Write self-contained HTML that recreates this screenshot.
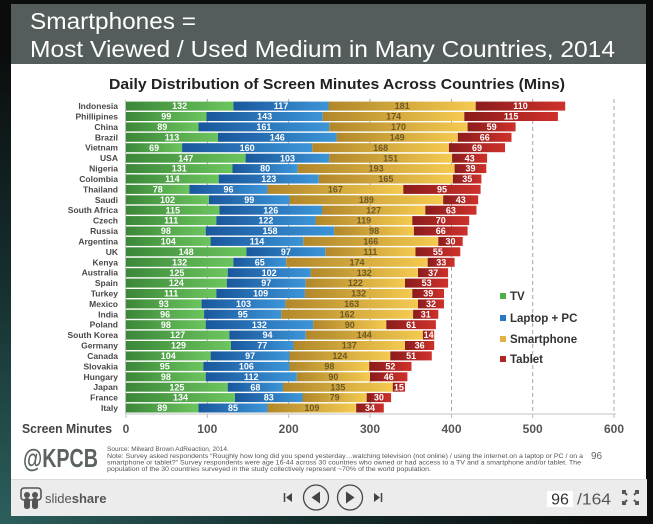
<!DOCTYPE html>
<html><head><meta charset="utf-8">
<style>
html,body{margin:0;padding:0;background:#0b0d0d;}
svg{display:block;}
text{font-family:"Liberation Sans",Arial,sans-serif;}
</style></head>
<body>
<svg width="653" height="524" viewBox="0 0 653 524" xmlns="http://www.w3.org/2000/svg">
<defs>
<linearGradient id="gG" x1="0" x2="1" y1="0" y2="0"><stop offset="0" stop-color="#3b8739"/><stop offset="1" stop-color="#6cc55e"/></linearGradient>
<linearGradient id="gB" x1="0" x2="1" y1="0" y2="0"><stop offset="0" stop-color="#1a579c"/><stop offset="1" stop-color="#3c95d8"/></linearGradient>
<linearGradient id="gS" x1="0" x2="1" y1="0" y2="0"><stop offset="0" stop-color="#b1872b"/><stop offset="1" stop-color="#f4ca50"/></linearGradient>
<linearGradient id="gT" x1="0" x2="1" y1="0" y2="0"><stop offset="0" stop-color="#8a1c1c"/><stop offset="1" stop-color="#cf312b"/></linearGradient>
<radialGradient id="bg" cx="0" cy="1" r="0.9"><stop offset="0" stop-color="#2c5f5c"/><stop offset="0.5" stop-color="#15302f"/><stop offset="1" stop-color="#0b0d0d"/></radialGradient>
</defs>
<rect x="0" y="0" width="653" height="524" fill="url(#bg)"/>
<!-- slide -->
<rect x="11" y="4" width="635" height="60" fill="#545d5b"/>
<rect x="11" y="64" width="635" height="415" fill="#ffffff"/>
<text x="30" y="29" font-size="23" fill="#ffffff" textLength="166" lengthAdjust="spacingAndGlyphs">Smartphones =</text>
<text x="30" y="57" font-size="23" fill="#ffffff" textLength="585" lengthAdjust="spacingAndGlyphs">Most Viewed / Used Medium in Many Countries, 2014</text>
<text x="109" y="89" font-size="15" font-weight="bold" fill="#222" textLength="456" lengthAdjust="spacingAndGlyphs">Daily Distribution of Screen Minutes Across Countries (Mins)</text>

<!-- grid -->
<g stroke="#a8a8a8" stroke-width="1" stroke-dasharray="4 3">
<line x1="207.3" y1="99" x2="207.3" y2="414"/>
<line x1="288.7" y1="99" x2="288.7" y2="414"/>
<line x1="370" y1="99" x2="370" y2="414"/>
<line x1="451.5" y1="99" x2="451.5" y2="414"/>
<line x1="532.7" y1="99" x2="532.7" y2="414"/>
<line x1="614" y1="99" x2="614" y2="414"/>
</g>
<line x1="126" y1="414" x2="616" y2="414" stroke="#cfcfcf" stroke-width="1.2"/>
<g stroke="#bdbdbd" stroke-width="1">
<line x1="126" y1="414" x2="126" y2="418"/><line x1="207.3" y1="414" x2="207.3" y2="418"/><line x1="288.7" y1="414" x2="288.7" y2="418"/><line x1="370" y1="414" x2="370" y2="418"/><line x1="451.5" y1="414" x2="451.5" y2="418"/><line x1="532.7" y1="414" x2="532.7" y2="418"/><line x1="614" y1="414" x2="614" y2="418"/>
<line x1="125.5" y1="100" x2="125.5" y2="414"/>
</g>

<!-- rows -->
<g font-size="9" font-weight="bold" text-anchor="middle">
<g transform="translate(0,101.6)"><rect x="126" y="0" width="107.4" height="9" fill="url(#gG)"/><rect x="233.4" y="0" width="95.1" height="9" fill="url(#gB)"/><rect x="328.5" y="0" width="147.2" height="9" fill="url(#gS)"/><rect x="475.7" y="0" width="89.5" height="9" fill="url(#gT)"/><text x="179.7" y="7.6" fill="#fff">132</text><text x="281" y="7.6" fill="#fff">117</text><text x="402.1" y="7.6" fill="#6e5a28">181</text><text x="520.5" y="7.6" fill="#fff">110</text></g>
<g transform="translate(0,112)"><rect x="126" y="0" width="80.5" height="9" fill="url(#gG)"/><rect x="206.5" y="0" width="116.3" height="9" fill="url(#gB)"/><rect x="322.8" y="0" width="141.5" height="9" fill="url(#gS)"/><rect x="464.3" y="0" width="93.6" height="9" fill="url(#gT)"/><text x="166.3" y="7.6" fill="#fff">99</text><text x="264.7" y="7.6" fill="#fff">143</text><text x="393.6" y="7.6" fill="#6e5a28">174</text><text x="511.1" y="7.6" fill="#fff">115</text></g>
<g transform="translate(0,122.4)"><rect x="126" y="0" width="72.4" height="9" fill="url(#gG)"/><rect x="198.4" y="0" width="130.9" height="9" fill="url(#gB)"/><rect x="329.3" y="0" width="138.3" height="9" fill="url(#gS)"/><rect x="467.6" y="0" width="48" height="9" fill="url(#gT)"/><text x="162.2" y="7.6" fill="#fff">89</text><text x="263.9" y="7.6" fill="#fff">161</text><text x="398.5" y="7.6" fill="#6e5a28">170</text><text x="491.6" y="7.6" fill="#fff">59</text></g>
<g transform="translate(0,132.8)"><rect x="126" y="0" width="91.9" height="9" fill="url(#gG)"/><rect x="217.9" y="0" width="118.7" height="9" fill="url(#gB)"/><rect x="336.6" y="0" width="121.2" height="9" fill="url(#gS)"/><rect x="457.8" y="0" width="53.7" height="9" fill="url(#gT)"/><text x="172" y="7.6" fill="#fff">113</text><text x="277.3" y="7.6" fill="#fff">146</text><text x="397.2" y="7.6" fill="#6e5a28">149</text><text x="484.7" y="7.6" fill="#fff">66</text></g>
<g transform="translate(0,143.2)"><rect x="126" y="0" width="56.1" height="9" fill="url(#gG)"/><rect x="182.1" y="0" width="130.1" height="9" fill="url(#gB)"/><rect x="312.2" y="0" width="136.7" height="9" fill="url(#gS)"/><rect x="448.9" y="0" width="56.1" height="9" fill="url(#gT)"/><text x="154.1" y="7.6" fill="#fff">69</text><text x="247.2" y="7.6" fill="#fff">160</text><text x="380.6" y="7.6" fill="#6e5a28">168</text><text x="477" y="7.6" fill="#fff">69</text></g>
<g transform="translate(0,153.7)"><rect x="126" y="0" width="119.6" height="9" fill="url(#gG)"/><rect x="245.6" y="0" width="83.7" height="9" fill="url(#gB)"/><rect x="329.3" y="0" width="122.8" height="9" fill="url(#gS)"/><rect x="452.1" y="0" width="35" height="9" fill="url(#gT)"/><text x="185.8" y="7.6" fill="#fff">147</text><text x="287.5" y="7.6" fill="#fff">103</text><text x="390.7" y="7.6" fill="#6e5a28">151</text><text x="469.6" y="7.6" fill="#fff">43</text></g>
<g transform="translate(0,164.1)"><rect x="126" y="0" width="106.5" height="9" fill="url(#gG)"/><rect x="232.5" y="0" width="65.1" height="9" fill="url(#gB)"/><rect x="297.6" y="0" width="157" height="9" fill="url(#gS)"/><rect x="454.6" y="0" width="31.7" height="9" fill="url(#gT)"/><text x="179.3" y="7.6" fill="#fff">131</text><text x="265.1" y="7.6" fill="#fff">80</text><text x="376.1" y="7.6" fill="#6e5a28">193</text><text x="470.5" y="7.6" fill="#fff">39</text></g>
<g transform="translate(0,174.5)"><rect x="126" y="0" width="92.7" height="9" fill="url(#gG)"/><rect x="218.7" y="0" width="100.1" height="9" fill="url(#gB)"/><rect x="318.8" y="0" width="134.1" height="9" fill="url(#gS)"/><rect x="452.9" y="0" width="28.5" height="9" fill="url(#gT)"/><text x="172.4" y="7.6" fill="#fff">114</text><text x="268.8" y="7.6" fill="#fff">123</text><text x="385.9" y="7.6" fill="#6e5a28">165</text><text x="467.2" y="7.6" fill="#fff">35</text></g>
<g transform="translate(0,184.9)"><rect x="126" y="0" width="63.4" height="9" fill="url(#gG)"/><rect x="189.4" y="0" width="78.1" height="9" fill="url(#gB)"/><rect x="267.5" y="0" width="135.8" height="9" fill="url(#gS)"/><rect x="403.3" y="0" width="77.3" height="9" fill="url(#gT)"/><text x="157.7" y="7.6" fill="#fff">78</text><text x="228.5" y="7.6" fill="#fff">96</text><text x="335.4" y="7.6" fill="#6e5a28">167</text><text x="442" y="7.6" fill="#fff">95</text></g>
<g transform="translate(0,195.3)"><rect x="126" y="0" width="83" height="9" fill="url(#gG)"/><rect x="209" y="0" width="80.5" height="9" fill="url(#gB)"/><rect x="289.5" y="0" width="153.7" height="9" fill="url(#gS)"/><rect x="443.2" y="0" width="35" height="9" fill="url(#gT)"/><text x="167.5" y="7.6" fill="#fff">102</text><text x="249.3" y="7.6" fill="#fff">99</text><text x="366.4" y="7.6" fill="#6e5a28">189</text><text x="460.7" y="7.6" fill="#fff">43</text></g>
<g transform="translate(0,205.7)"><rect x="126" y="0" width="93.5" height="9" fill="url(#gG)"/><rect x="219.5" y="0" width="102.5" height="9" fill="url(#gB)"/><rect x="322" y="0" width="103.3" height="9" fill="url(#gS)"/><rect x="425.3" y="0" width="51.2" height="9" fill="url(#gT)"/><text x="172.8" y="7.6" fill="#fff">115</text><text x="270.8" y="7.6" fill="#fff">126</text><text x="373.7" y="7.6" fill="#6e5a28">127</text><text x="450.9" y="7.6" fill="#fff">63</text></g>
<g transform="translate(0,216.1)"><rect x="126" y="0" width="90.3" height="9" fill="url(#gG)"/><rect x="216.3" y="0" width="99.2" height="9" fill="url(#gB)"/><rect x="315.5" y="0" width="96.8" height="9" fill="url(#gS)"/><rect x="412.3" y="0" width="56.9" height="9" fill="url(#gT)"/><text x="171.2" y="7.6" fill="#fff">111</text><text x="265.9" y="7.6" fill="#fff">122</text><text x="363.9" y="7.6" fill="#6e5a28">119</text><text x="440.8" y="7.6" fill="#fff">70</text></g>
<g transform="translate(0,226.5)"><rect x="126" y="0" width="79.7" height="9" fill="url(#gG)"/><rect x="205.7" y="0" width="128.5" height="9" fill="url(#gB)"/><rect x="334.2" y="0" width="79.7" height="9" fill="url(#gS)"/><rect x="413.9" y="0" width="53.7" height="9" fill="url(#gT)"/><text x="165.9" y="7.6" fill="#fff">98</text><text x="270" y="7.6" fill="#fff">158</text><text x="374.1" y="7.6" fill="#6e5a28">98</text><text x="440.8" y="7.6" fill="#fff">66</text></g>
<g transform="translate(0,236.9)"><rect x="126" y="0" width="84.6" height="9" fill="url(#gG)"/><rect x="210.6" y="0" width="92.7" height="9" fill="url(#gB)"/><rect x="303.3" y="0" width="135" height="9" fill="url(#gS)"/><rect x="438.3" y="0" width="24.4" height="9" fill="url(#gT)"/><text x="168.3" y="7.6" fill="#fff">104</text><text x="257" y="7.6" fill="#fff">114</text><text x="370.8" y="7.6" fill="#6e5a28">166</text><text x="450.5" y="7.6" fill="#fff">30</text></g>
<g transform="translate(0,247.3)"><rect x="126" y="0" width="120.4" height="9" fill="url(#gG)"/><rect x="246.4" y="0" width="78.9" height="9" fill="url(#gB)"/><rect x="325.3" y="0" width="90.2" height="9" fill="url(#gS)"/><rect x="415.5" y="0" width="44.8" height="9" fill="url(#gT)"/><text x="186.2" y="7.6" fill="#fff">148</text><text x="285.9" y="7.6" fill="#fff">97</text><text x="370.4" y="7.6" fill="#6e5a28">111</text><text x="437.9" y="7.6" fill="#fff">55</text></g>
<g transform="translate(0,257.8)"><rect x="126" y="0" width="107.4" height="9" fill="url(#gG)"/><rect x="233.4" y="0" width="52.8" height="9" fill="url(#gB)"/><rect x="286.2" y="0" width="141.5" height="9" fill="url(#gS)"/><rect x="427.7" y="0" width="26.9" height="9" fill="url(#gT)"/><text x="179.7" y="7.6" fill="#fff">132</text><text x="259.8" y="7.6" fill="#fff">65</text><text x="357" y="7.6" fill="#6e5a28">174</text><text x="441.2" y="7.6" fill="#fff">33</text></g>
<g transform="translate(0,268.2)"><rect x="126" y="0" width="101.7" height="9" fill="url(#gG)"/><rect x="227.7" y="0" width="82.9" height="9" fill="url(#gB)"/><rect x="310.6" y="0" width="107.4" height="9" fill="url(#gS)"/><rect x="418" y="0" width="30.1" height="9" fill="url(#gT)"/><text x="176.9" y="7.6" fill="#fff">125</text><text x="269.2" y="7.6" fill="#fff">102</text><text x="364.3" y="7.6" fill="#6e5a28">132</text><text x="433.1" y="7.6" fill="#fff">37</text></g>
<g transform="translate(0,278.6)"><rect x="126" y="0" width="100.8" height="9" fill="url(#gG)"/><rect x="226.8" y="0" width="78.9" height="9" fill="url(#gB)"/><rect x="305.7" y="0" width="99.3" height="9" fill="url(#gS)"/><rect x="405" y="0" width="43.1" height="9" fill="url(#gT)"/><text x="176.4" y="7.6" fill="#fff">124</text><text x="266.3" y="7.6" fill="#fff">97</text><text x="355.4" y="7.6" fill="#6e5a28">122</text><text x="426.6" y="7.6" fill="#fff">53</text></g>
<g transform="translate(0,289)"><rect x="126" y="0" width="90.3" height="9" fill="url(#gG)"/><rect x="216.3" y="0" width="88.6" height="9" fill="url(#gB)"/><rect x="304.9" y="0" width="107.4" height="9" fill="url(#gS)"/><rect x="412.3" y="0" width="31.7" height="9" fill="url(#gT)"/><text x="171.2" y="7.6" fill="#fff">111</text><text x="260.6" y="7.6" fill="#fff">109</text><text x="358.6" y="7.6" fill="#6e5a28">132</text><text x="428.2" y="7.6" fill="#fff">39</text></g>
<g transform="translate(0,299.4)"><rect x="126" y="0" width="75.6" height="9" fill="url(#gG)"/><rect x="201.6" y="0" width="83.8" height="9" fill="url(#gB)"/><rect x="285.4" y="0" width="132.6" height="9" fill="url(#gS)"/><rect x="418" y="0" width="26" height="9" fill="url(#gT)"/><text x="163.8" y="7.6" fill="#fff">93</text><text x="243.5" y="7.6" fill="#fff">103</text><text x="351.7" y="7.6" fill="#6e5a28">163</text><text x="431" y="7.6" fill="#fff">32</text></g>
<g transform="translate(0,309.8)"><rect x="126" y="0" width="78.1" height="9" fill="url(#gG)"/><rect x="204.1" y="0" width="77.2" height="9" fill="url(#gB)"/><rect x="281.3" y="0" width="131.8" height="9" fill="url(#gS)"/><rect x="413.1" y="0" width="25.2" height="9" fill="url(#gT)"/><text x="165.1" y="7.6" fill="#fff">96</text><text x="242.7" y="7.6" fill="#fff">95</text><text x="347.2" y="7.6" fill="#6e5a28">162</text><text x="425.7" y="7.6" fill="#fff">31</text></g>
<g transform="translate(0,320.2)"><rect x="126" y="0" width="79.7" height="9" fill="url(#gG)"/><rect x="205.7" y="0" width="107.4" height="9" fill="url(#gB)"/><rect x="313.1" y="0" width="73.2" height="9" fill="url(#gS)"/><rect x="386.3" y="0" width="49.6" height="9" fill="url(#gT)"/><text x="165.9" y="7.6" fill="#fff">98</text><text x="259.4" y="7.6" fill="#fff">132</text><text x="349.7" y="7.6" fill="#6e5a28">90</text><text x="411.1" y="7.6" fill="#fff">61</text></g>
<g transform="translate(0,330.6)"><rect x="126" y="0" width="103.3" height="9" fill="url(#gG)"/><rect x="229.3" y="0" width="76.4" height="9" fill="url(#gB)"/><rect x="305.7" y="0" width="117.2" height="9" fill="url(#gS)"/><rect x="422.9" y="0" width="11.3" height="9" fill="url(#gT)"/><text x="177.7" y="7.6" fill="#fff">127</text><text x="267.5" y="7.6" fill="#fff">94</text><text x="364.3" y="7.6" fill="#6e5a28">144</text><text x="428.6" y="7.6" fill="#fff">14</text></g>
<g transform="translate(0,341)"><rect x="126" y="0" width="104.9" height="9" fill="url(#gG)"/><rect x="230.9" y="0" width="62.6" height="9" fill="url(#gB)"/><rect x="293.5" y="0" width="111.5" height="9" fill="url(#gS)"/><rect x="405" y="0" width="29.2" height="9" fill="url(#gT)"/><text x="178.5" y="7.6" fill="#fff">129</text><text x="262.2" y="7.6" fill="#fff">77</text><text x="349.3" y="7.6" fill="#6e5a28">137</text><text x="419.6" y="7.6" fill="#fff">36</text></g>
<g transform="translate(0,351.4)"><rect x="126" y="0" width="84.6" height="9" fill="url(#gG)"/><rect x="210.6" y="0" width="78.9" height="9" fill="url(#gB)"/><rect x="289.5" y="0" width="100.8" height="9" fill="url(#gS)"/><rect x="390.3" y="0" width="41.5" height="9" fill="url(#gT)"/><text x="168.3" y="7.6" fill="#fff">104</text><text x="250.1" y="7.6" fill="#fff">97</text><text x="339.9" y="7.6" fill="#6e5a28">124</text><text x="411.1" y="7.6" fill="#fff">51</text></g>
<g transform="translate(0,361.9)"><rect x="126" y="0" width="77.3" height="9" fill="url(#gG)"/><rect x="203.3" y="0" width="86.2" height="9" fill="url(#gB)"/><rect x="289.5" y="0" width="79.7" height="9" fill="url(#gS)"/><rect x="369.2" y="0" width="42.3" height="9" fill="url(#gT)"/><text x="164.7" y="7.6" fill="#fff">95</text><text x="246.4" y="7.6" fill="#fff">106</text><text x="329.4" y="7.6" fill="#6e5a28">98</text><text x="390.4" y="7.6" fill="#fff">52</text></g>
<g transform="translate(0,372.3)"><rect x="126" y="0" width="79.7" height="9" fill="url(#gG)"/><rect x="205.7" y="0" width="91.1" height="9" fill="url(#gB)"/><rect x="296.8" y="0" width="73.2" height="9" fill="url(#gS)"/><rect x="370" y="0" width="37.4" height="9" fill="url(#gT)"/><text x="165.9" y="7.6" fill="#fff">98</text><text x="251.3" y="7.6" fill="#fff">112</text><text x="333.4" y="7.6" fill="#6e5a28">90</text><text x="388.7" y="7.6" fill="#fff">46</text></g>
<g transform="translate(0,382.7)"><rect x="126" y="0" width="101.7" height="9" fill="url(#gG)"/><rect x="227.7" y="0" width="55.3" height="9" fill="url(#gB)"/><rect x="283" y="0" width="109.8" height="9" fill="url(#gS)"/><rect x="392.8" y="0" width="12.2" height="9" fill="url(#gT)"/><text x="176.9" y="7.6" fill="#fff">125</text><text x="255.4" y="7.6" fill="#fff">68</text><text x="337.9" y="7.6" fill="#6e5a28">135</text><text x="398.9" y="7.6" fill="#fff">15</text></g>
<g transform="translate(0,393.1)"><rect x="126" y="0" width="109" height="9" fill="url(#gG)"/><rect x="235" y="0" width="67.5" height="9" fill="url(#gB)"/><rect x="302.5" y="0" width="64.2" height="9" fill="url(#gS)"/><rect x="366.7" y="0" width="24.4" height="9" fill="url(#gT)"/><text x="180.5" y="7.6" fill="#fff">134</text><text x="268.8" y="7.6" fill="#fff">83</text><text x="334.6" y="7.6" fill="#6e5a28">79</text><text x="378.9" y="7.6" fill="#fff">30</text></g>
<g transform="translate(0,403.5)"><rect x="126" y="0" width="72.4" height="9" fill="url(#gG)"/><rect x="198.4" y="0" width="69.1" height="9" fill="url(#gB)"/><rect x="267.5" y="0" width="88.7" height="9" fill="url(#gS)"/><rect x="356.2" y="0" width="27.6" height="9" fill="url(#gT)"/><text x="162.2" y="7.6" fill="#fff">89</text><text x="233" y="7.6" fill="#fff">85</text><text x="311.9" y="7.6" fill="#6e5a28">109</text><text x="370" y="7.6" fill="#fff">34</text></g>
</g>

<!-- country labels -->
<g font-size="8.5" font-weight="bold" fill="#484848" text-anchor="end">
<text x="118" y="109.1">Indonesia</text>
<text x="118" y="119.5">Phillipines</text>
<text x="118" y="129.9">China</text>
<text x="118" y="140.3">Brazil</text>
<text x="118" y="150.7">Vietnam</text>
<text x="118" y="161.2">USA</text>
<text x="118" y="171.6">Nigeria</text>
<text x="118" y="182">Colombia</text>
<text x="118" y="192.4">Thailand</text>
<text x="118" y="202.8">Saudi</text>
<text x="118" y="213.2">South Africa</text>
<text x="118" y="223.6">Czech</text>
<text x="118" y="234">Russia</text>
<text x="118" y="244.4">Argentina</text>
<text x="118" y="254.8">UK</text>
<text x="118" y="265.3">Kenya</text>
<text x="118" y="275.7">Australia</text>
<text x="118" y="286.1">Spain</text>
<text x="118" y="296.5">Turkey</text>
<text x="118" y="306.9">Mexico</text>
<text x="118" y="317.3">India</text>
<text x="118" y="327.7">Poland</text>
<text x="118" y="338.1">South Korea</text>
<text x="118" y="348.5">Germany</text>
<text x="118" y="358.9">Canada</text>
<text x="118" y="369.4">Slovakia</text>
<text x="118" y="379.8">Hungary</text>
<text x="118" y="390.2">Japan</text>
<text x="118" y="400.6">France</text>
<text x="118" y="411">Italy</text>
</g>

<!-- legend -->
<rect x="500" y="293" width="6" height="6" fill="#4fae4a"/>
<rect x="500" y="315" width="6" height="6" fill="#2a78c2"/>
<rect x="500" y="336" width="6" height="6" fill="#e3b441"/>
<rect x="500" y="356" width="6" height="6" fill="#b02624"/>
<g font-size="11.5" font-weight="bold" fill="#333">
<text x="510" y="300">TV</text>
<text x="510" y="322">Laptop + PC</text>
<text x="510" y="343">Smartphone</text>
<text x="510" y="363">Tablet</text>
</g>

<!-- axis labels -->
<text x="22" y="433" font-size="12.5" font-weight="bold" fill="#444" textLength="90" lengthAdjust="spacingAndGlyphs">Screen Minutes</text>
<g font-size="12" font-weight="bold" fill="#555" text-anchor="middle">
<text x="126" y="433">0</text>
<text x="207.3" y="433">100</text>
<text x="288.7" y="433">200</text>
<text x="370" y="433">300</text>
<text x="451.5" y="433">400</text>
<text x="532.7" y="433">500</text>
<text x="614" y="433">600</text>
</g>

<!-- footer -->
<text x="23" y="467" font-size="26" font-weight="bold" fill="#5a6262" textLength="75" lengthAdjust="spacingAndGlyphs">@KPCB</text>
<g font-size="6.5" fill="#555">
<text x="107" y="451">Source: Milward Brown AdReaction, 2014.</text>
<text x="107" y="458" textLength="476" lengthAdjust="spacingAndGlyphs">Note: Survey asked respondents “Roughly how long did you spend yesterday…watching television (not online) / using the internet on a laptop or PC / on a</text>
<text x="107" y="464.5" textLength="474" lengthAdjust="spacingAndGlyphs">smartphone or tablet?” Survey respondents were age 16-44 across 30 countries who owned or had access to a TV and a smartphone and/or tablet. The</text>
<text x="107" y="471" textLength="324" lengthAdjust="spacingAndGlyphs">population of the 30 countries surveyed in the study collectively represent ~70% of the world population.</text>
</g>
<text x="591" y="459" font-size="10" fill="#666">96</text>

<!-- slideshare bar -->
<rect x="11" y="479" width="636" height="37" fill="#ececec"/>
<line x1="11" y1="479.5" x2="647" y2="479.5" stroke="#dcdcdc" stroke-width="1"/>
<g fill="#555">
<rect x="21" y="488" width="20" height="12" rx="3" fill="none" stroke="#555" stroke-width="1.6"/>
<circle cx="27" cy="495" r="3"/><circle cx="35" cy="495" r="3"/>
<rect x="24" y="498" width="6" height="11" rx="2.5"/><rect x="32" y="498" width="6" height="11" rx="2.5"/>
</g>
<text x="45" y="503" font-size="13" fill="#555">slide<tspan font-weight="bold">share</tspan></text>
<g fill="#444" stroke="#444">
<line x1="284.5" y1="493" x2="284.5" y2="502" stroke-width="1.5"/>
<polygon points="292,493 292,502 286,497.5" stroke="none"/>
<circle cx="316" cy="497.5" r="12.5" fill="none" stroke-width="1.3"/>
<polygon points="320,491.5 320,503.5 311.5,497.5" stroke="none"/>
<circle cx="350" cy="497.5" r="12.5" fill="none" stroke-width="1.3"/>
<polygon points="346,491.5 346,503.5 354.5,497.5" stroke="none"/>
<polygon points="374,493 374,502 380,497.5" stroke="none"/>
<line x1="381.5" y1="493" x2="381.5" y2="502" stroke-width="1.5"/>
</g>
<rect x="547" y="491" width="26" height="16" fill="#fff"/>
<text x="560" y="504.5" font-size="16" fill="#333" text-anchor="middle">96</text>
<text x="577" y="504.5" font-size="16" fill="#555" textLength="34" lengthAdjust="spacingAndGlyphs">/164</text>
<g stroke="#555" stroke-width="2" fill="none">
<polyline points="623,494 623,491 626,491"/><line x1="623" y1="491" x2="627" y2="495"/>
<polyline points="635,491 638,491 638,494"/><line x1="638" y1="491" x2="634" y2="495"/>
<polyline points="623,501 623,504 626,504"/><line x1="623" y1="504" x2="627" y2="500"/>
<polyline points="635,504 638,504 638,501"/><line x1="638" y1="504" x2="634" y2="500"/>
</g>
</svg>
</body></html>
